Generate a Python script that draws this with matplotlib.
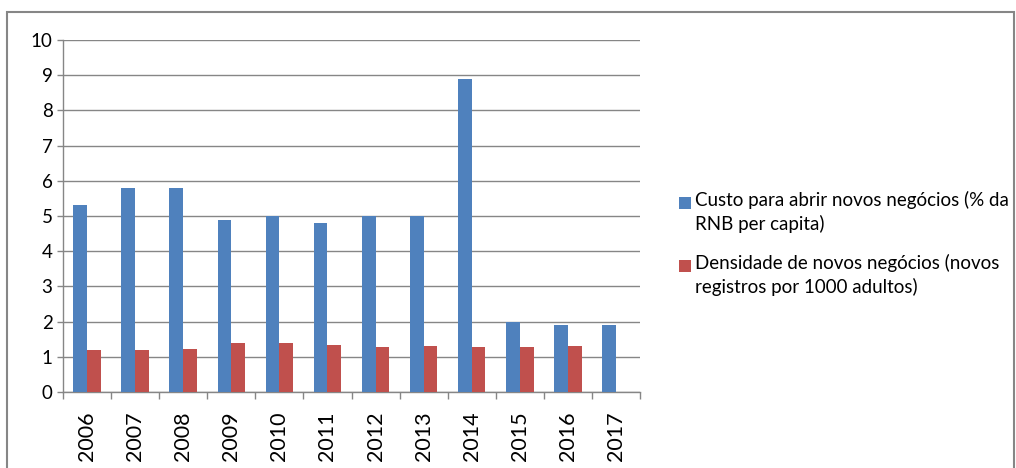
import matplotlib
matplotlib.use("Agg")
import matplotlib.pyplot as plt
import numpy as np
from matplotlib.patches import Rectangle

years = ["2006", "2007", "2008", "2009", "2010", "2011", "2012", "2013", "2014", "2015", "2016", "2017"]
custo = [5.3, 5.8, 5.8, 4.9, 5.0, 4.8, 5.0, 5.0, 8.9, 2.0, 1.9, 1.9]
densidade = [1.2, 1.2, 1.21, 1.38, 1.38, 1.33, 1.28, 1.30, 1.27, 1.28, 1.30, np.nan]
label_custo = "Custo para abrir novos negócios (% da\nRNB per capita)"
label_dens = "Densidade de novos negócios (novos\nregistros por 1000 adultos)"

blue = "#4F81BD"
red = "#C0504D"
grid_c = "#868686"

plt.rcParams['font.family'] = ['Lato', 'DejaVu Sans']

W, H = 1016, 468
fig = plt.figure(figsize=(W / 100, H / 100), dpi=100)
ax = fig.add_axes([63 / W, 1 - 392 / H, (640 - 63) / W, (392 - 40) / H])

x = np.arange(len(years))
bw = 0.286
ax.bar(x - bw / 2, custo, width=bw, color=blue, zorder=3)
ax.bar(x + bw / 2, densidade, width=bw, color=red, zorder=3)

ax.set_xlim(-0.5, len(years) - 0.5)
ax.set_ylim(0, 10)
ax.set_yticks(range(0, 11))
ax.tick_params(axis='y', labelsize=13.5, length=4.5, color=grid_c, width=1, pad=3)
ax.yaxis.grid(True, color=grid_c, linewidth=1, zorder=0)
ax.set_axisbelow(True)

ax.set_xticks(x)
ax.set_xticklabels(years, rotation=90, fontsize=15.5)
ax.tick_params(axis='x', length=0, pad=14)
ax.set_xticks(np.arange(-0.5, len(years), 1), minor=True)
ax.tick_params(axis='x', which='minor', length=5, color=grid_c, width=1)

for s in ['top', 'right']:
    ax.spines[s].set_visible(False)
for s in ['left', 'bottom']:
    ax.spines[s].set_color(grid_c)
    ax.spines[s].set_linewidth(1)

# legend (manual)
fig.patches.append(Rectangle((679 / W, 1 - 209 / H), 12 / W, 12 / H, transform=fig.transFigure,
                             facecolor=blue, edgecolor='none'))
fig.text(695 / W, 1 - 191 / H, label_custo, fontsize=13.5, va='top', ha='left', linespacing=1.38,
         transform=fig.transFigure)
fig.patches.append(Rectangle((679 / W, 1 - 272 / H), 12 / W, 12 / H, transform=fig.transFigure,
                             facecolor=red, edgecolor='none'))
fig.text(695 / W, 1 - 254 / H, label_dens, fontsize=13.5, va='top', ha='left', linespacing=1.38,
         transform=fig.transFigure)

# outer frame
fig.patches.append(Rectangle((7 / W, -5 / H), (1014 - 7) / W, (H - 12 + 5) / H, transform=fig.transFigure,
                             facecolor='none', edgecolor=grid_c, linewidth=1.5))

fig.savefig("out.png", dpi=100)
